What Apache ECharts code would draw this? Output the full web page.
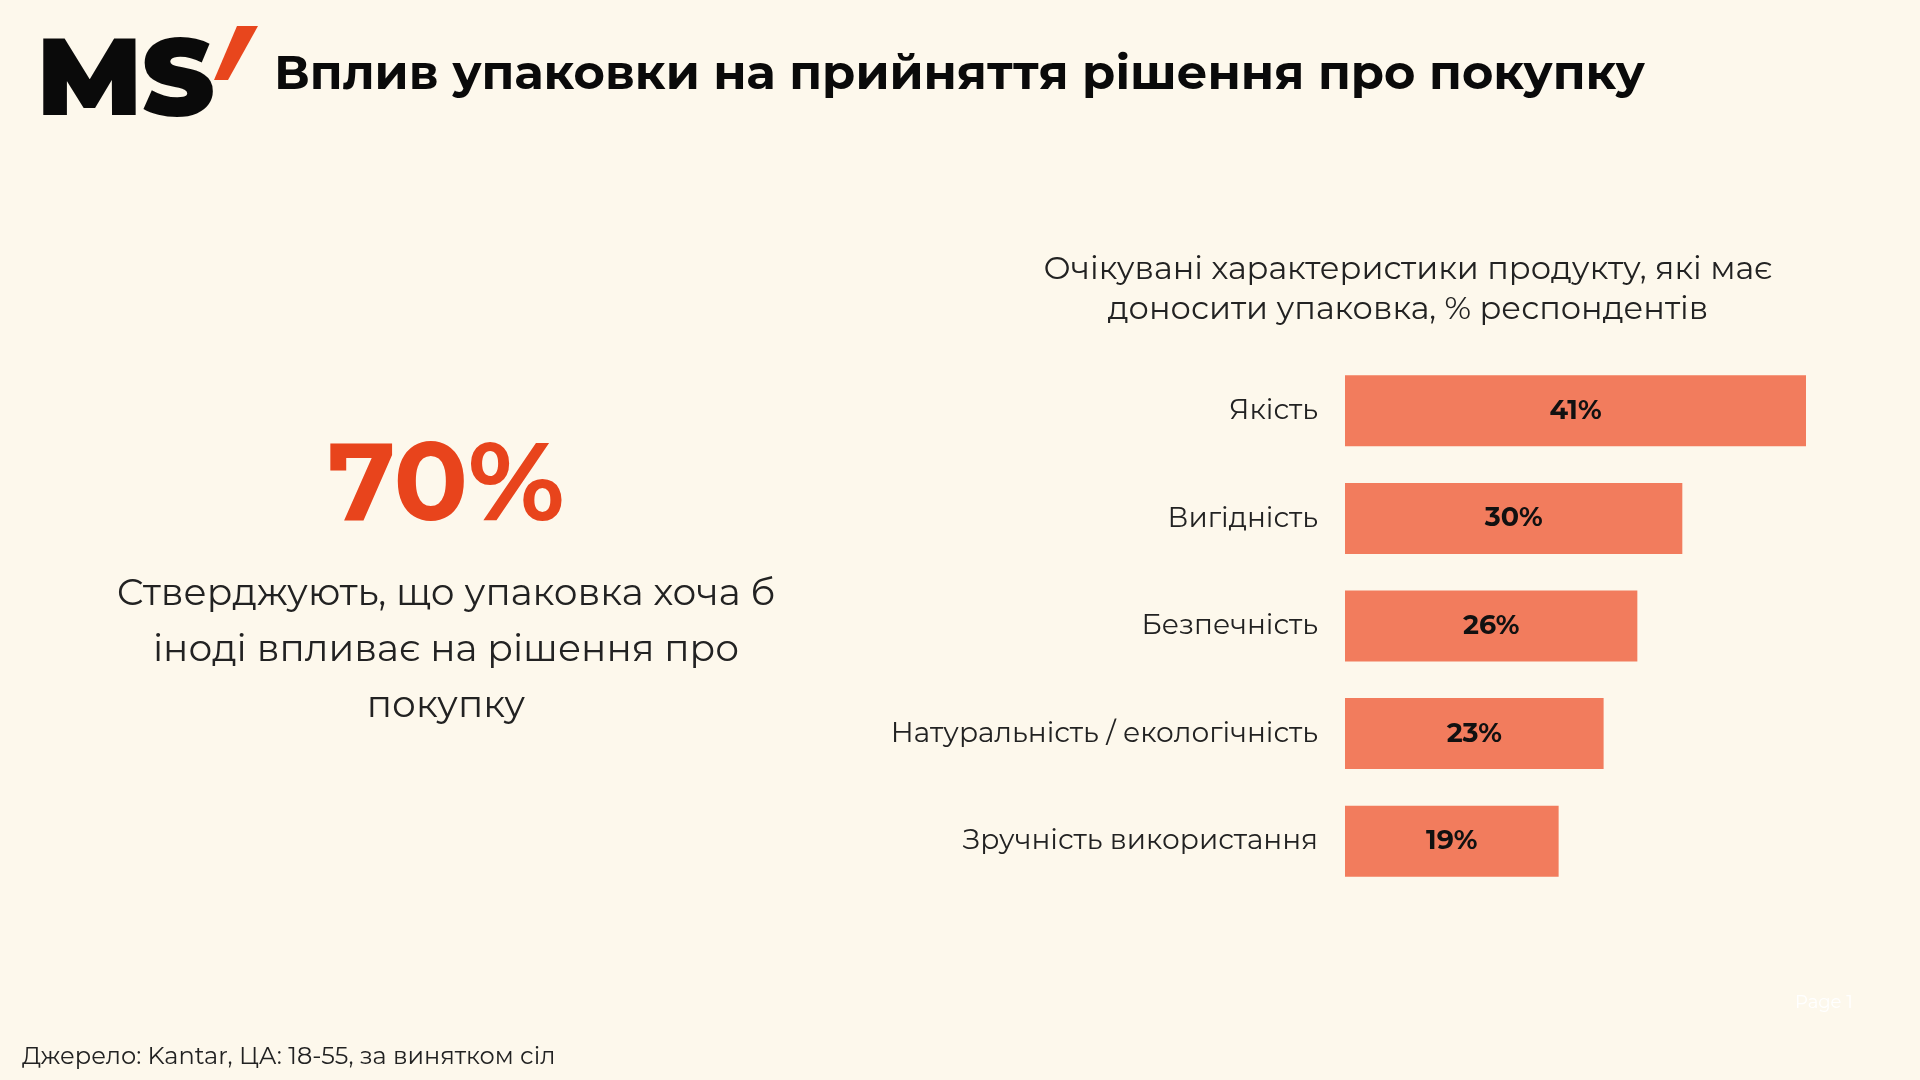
<!DOCTYPE html>
<html><head><meta charset="utf-8">
<script src="https://cdn.jsdelivr.net/npm/echarts@6/dist/echarts.min.js"></script>
<style>html,body{margin:0;padding:0;background:#FDF8EC}#c{width:1920px;height:1080px}</style>
</head><body><div id="c"></div>
<script>
const categories = ['Якість','Вигідність','Безпечність','Натуральність / екологічність','Зручність використання'];
const values = [41,30,26,23,19];
const FONT = 'Montserrat, Lato, "Open Sans", sans-serif';
const chart = echarts.init(document.getElementById('c'));
chart.setOption({
  backgroundColor:'#FDF8EC',
  animation:false,
  grid:{left:1345,top:357,width:461,height:538},
  xAxis:{type:'value',min:0,max:41,show:false},
  yAxis:{type:'category',data:categories,inverse:true,
    axisLine:{show:false},axisTick:{show:false},
    axisLabel:{margin:27,fontSize:28,color:'#222',fontFamily:FONT}},
  series:[{type:'bar',data:values,barWidth:71,itemStyle:{color:'#F27C5D'},
    label:{show:true,position:'inside',formatter:'{c}%',fontSize:27,fontWeight:'bold',color:'#111',fontFamily:FONT}}],
  graphic:[
    {type:'text',left:37,top:28,style:{text:'MS',font:'900 110px '+FONT,fill:'#0a0a0a'}},
    {type:'polygon',shape:{points:[[237,26],[258,26],[228,80],[214,80]]},style:{fill:'#E8461D'}},
    {type:'text',left:274,top:51,style:{text:'Вплив упаковки на прийняття рішення про покупку',font:'bold 48px '+FONT,fill:'#0a0a0a'}},
    {type:'text',x:446,y:488,style:{text:'70%',font:'bold 110px '+FONT,fill:'#E8441C',align:'center',verticalAlign:'middle'}},
    {type:'text',x:446,y:650,style:{text:'Стверджують, що упаковка хоча б\nіноді впливає на рішення про\nпокупку',font:'37.5px '+FONT,lineHeight:56,fill:'#222',align:'center',verticalAlign:'middle'}},
    {type:'text',x:1408,y:290,style:{text:'Очікувані характеристики продукту, які має\nдоносити упаковка, % респондентів',font:'32px '+FONT,lineHeight:40,fill:'#222',align:'center',verticalAlign:'middle'}},
    {type:'text',left:22,top:1045,style:{text:'Джерело: Kantar, ЦА: 18-55, за винятком сіл',font:'24px '+FONT,fill:'#222'}},
    {type:'text',left:1795,top:994,style:{text:'Page 1',font:'18px '+FONT,fill:'#ffffff'}}
  ]
});
</script></body></html>
